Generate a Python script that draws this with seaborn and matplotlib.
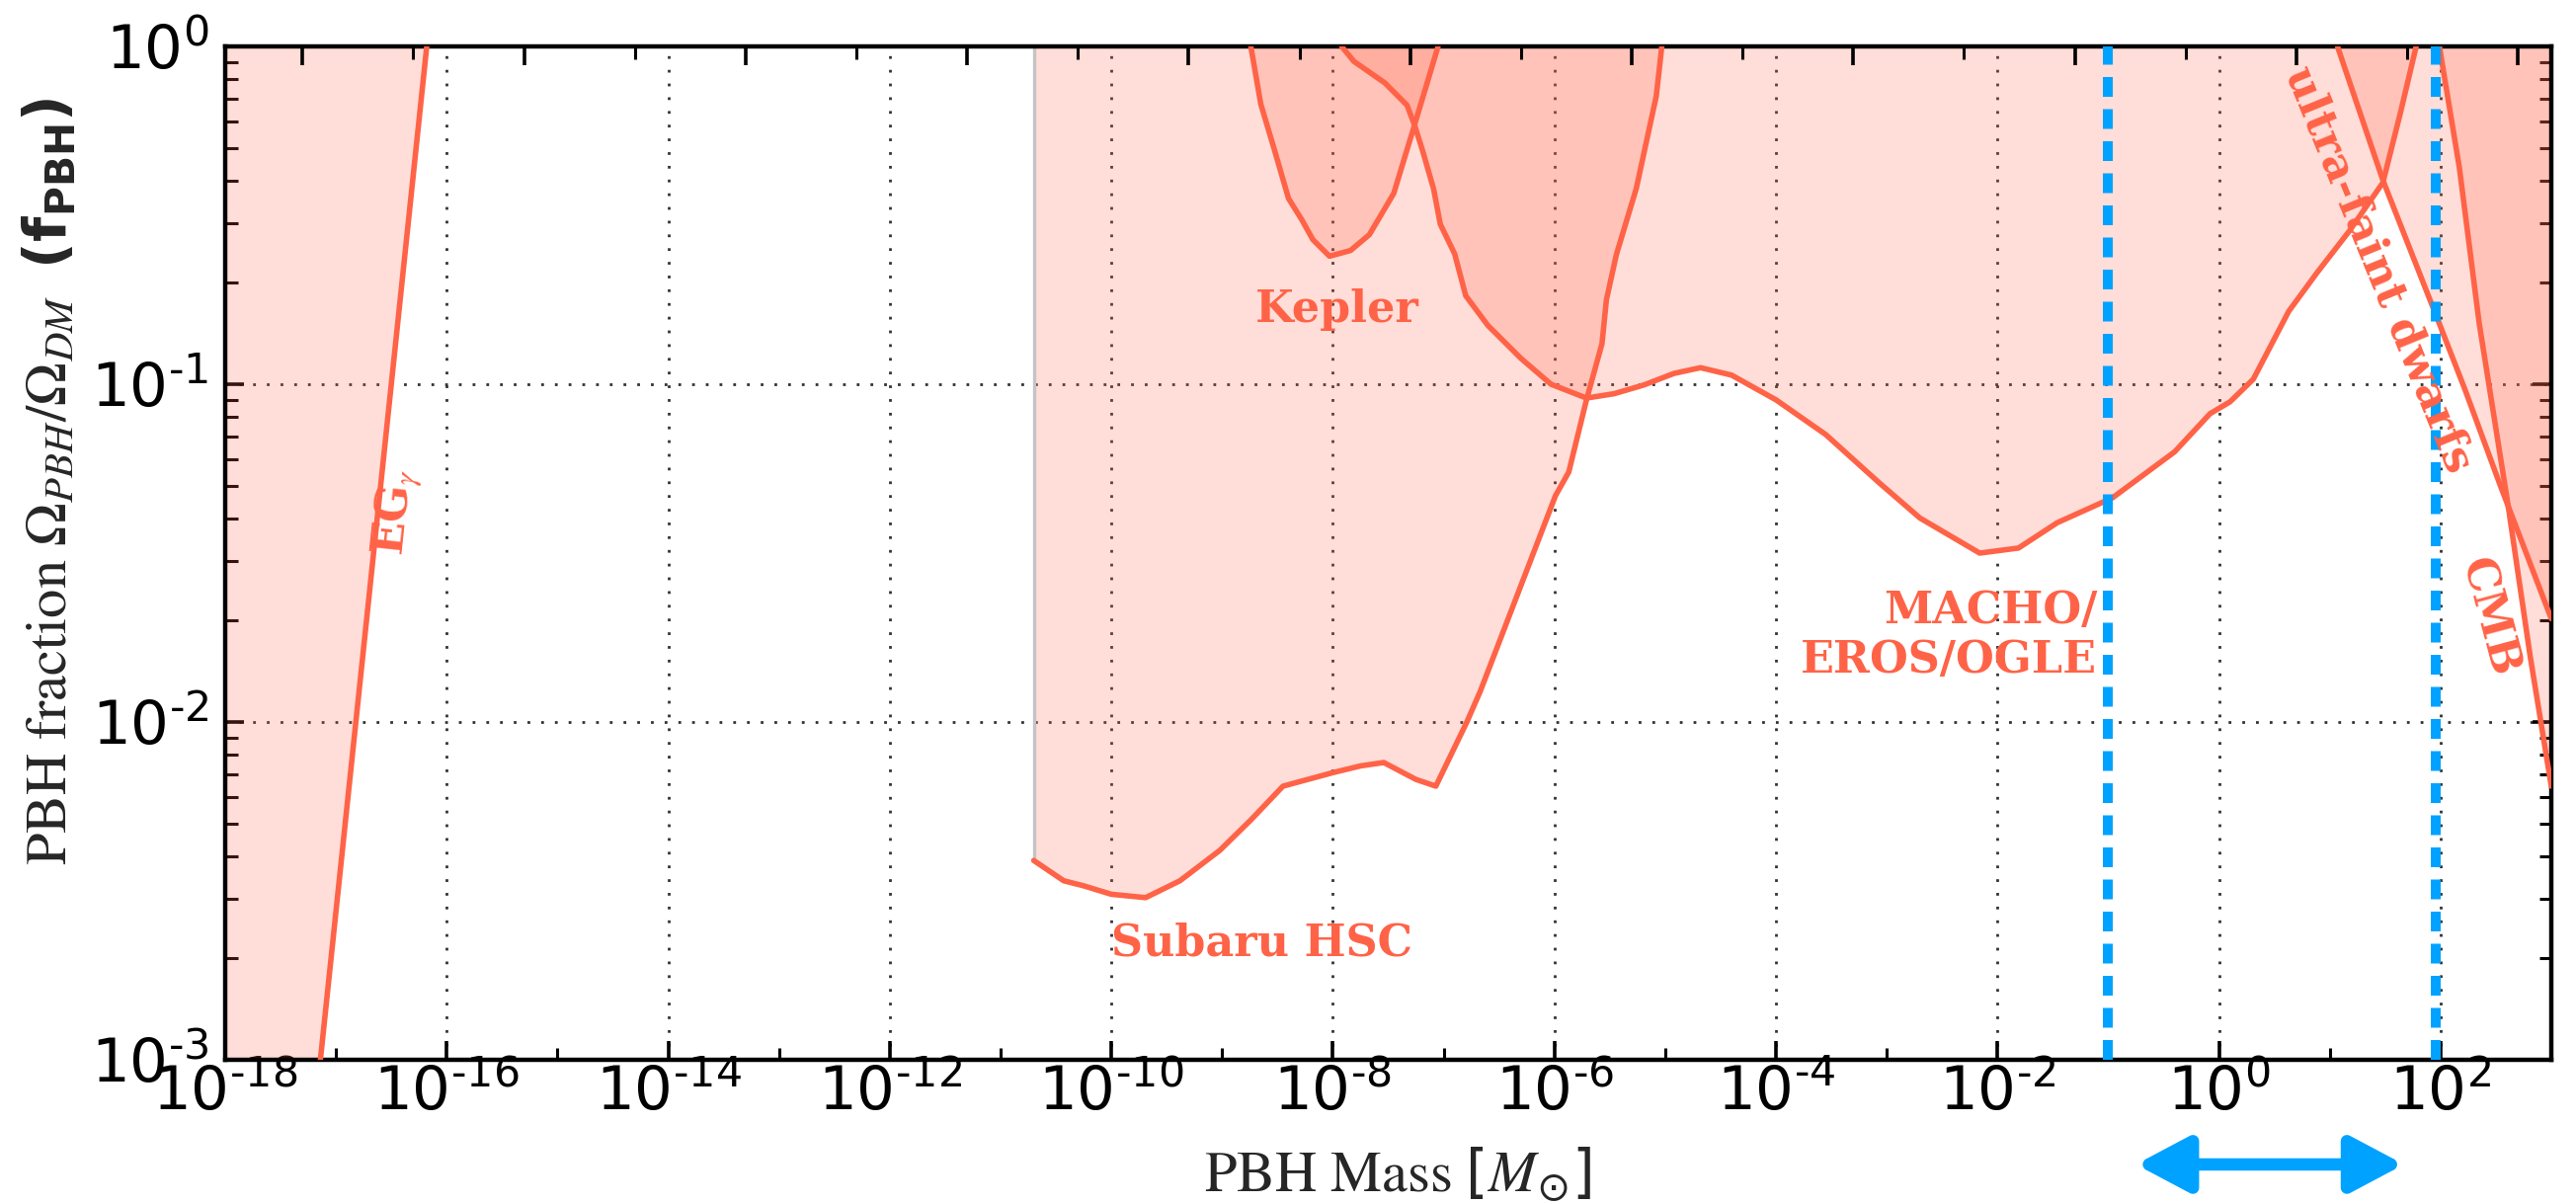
import numpy as np
import pandas as pd
import matplotlib
matplotlib.use("Agg")
import matplotlib.pyplot as plt
import seaborn as sns
from matplotlib.ticker import FixedLocator, FuncFormatter, LogLocator, NullFormatter

# ---------------- data (log10 of mass [Msun] and of f_PBH) ----------------
xlim_log = [-18, 3]
ylim_log = [-3, 0]

eg_logm = [-17.14, -16.18]
eg_logf = [-3.0, 0.0]

kepler_logm = [-8.74, -8.65, -8.53, -8.40, -8.28, -8.18, -8.03, -7.84, -7.67, -7.45, -7.26, -7.05]
kepler_logf = [0.0, -0.171, -0.303, -0.45, -0.513, -0.572, -0.621, -0.604, -0.557, -0.435, -0.23, 0.0]

subaru_logm = [-10.70, -10.43, -10.25, -10.0, -9.69, -9.38, -9.02, -8.74, -8.45, -8.0, -7.75,
               -7.54, -7.25, -7.07, -6.79, -6.67, -5.99, -5.87, -5.71, -5.57, -5.53, -5.44,
               -5.26, -5.08, -5.03]
subaru_logf = [-2.41, -2.47, -2.485, -2.51, -2.52, -2.47, -2.38, -2.29, -2.19, -2.15, -2.13,
               -2.12, -2.17, -2.19, -2.0, -1.91, -1.33, -1.26, -1.046, -0.88, -0.75, -0.616,
               -0.42, -0.147, 0.0]

macho_logm = [-7.92, -7.81, -7.53, -7.33, -7.26, -7.19, -7.09, -7.03, -6.90, -6.80, -6.60,
              -6.30, -6.03, -5.71, -5.46, -5.19, -4.92, -4.68, -4.40, -4.0, -3.55, -3.07,
              -2.70, -2.16, -1.81, -1.46, -0.96, -0.40, -0.08, 0.10, 0.31, 0.63, 0.88,
              1.18, 1.48, 1.64, 1.78]
macho_logf = [0.0, -0.044, -0.108, -0.174, -0.235, -0.308, -0.422, -0.526, -0.614, -0.738,
              -0.826, -0.924, -1.0, -1.041, -1.028, -1.002, -0.968, -0.951, -0.973, -1.046,
              -1.149, -1.291, -1.396, -1.5, -1.485, -1.41, -1.336, -1.20, -1.087, -1.052,
              -0.985, -0.784, -0.672, -0.545, -0.403, -0.194, 0.0]

ufd_logm = [1.07, 1.48, 1.99, 2.22, 2.54, 3.0]
ufd_logf = [0.0, -0.396, -0.821, -1.015, -1.30, -1.694]

cmb_logm = [1.99, 2.17, 2.35, 2.61, 2.81, 3.0]
cmb_logf = [0.0, -0.358, -0.821, -1.358, -1.806, -2.19]

window_masses = [0.1, 90.0]          # blue dashed lines
arrow_logm = [-0.75, 1.67]           # double arrow under the axis

label_texts = [r"EG$_{\mathit{\gamma}}$", "Kepler", "Subaru HSC", "MACHO/\nEROS/OGLE",
               "ultra-faint dwarfs", "CMB"]
label_logm = [-16.45, -7.96, -8.64, -1.10, 1.44, 2.43]
label_logf = [-1.38, -0.778, -2.654, -1.745, -0.66, -1.69]
label_rot = [84, 0, 0, 0, -67.8, -75]
label_ha = ["center", "center", "center", "right", "center", "center"]

x_major_log = list(range(-18, 3, 2))
x_minor_log = list(range(-17, 3, 2))
top_tick_log_g = list(range(16, 37))     # top axis ticks in grams
msun_g = 2e33

# ---------------- style ----------------
sns.set_style("ticks")
plt.rcParams.update({
    "mathtext.fontset": "custom",
    "mathtext.rm": "STIXGeneral",
    "mathtext.it": "STIXGeneral:italic",
    "mathtext.bf": "DejaVu Sans:bold",
    "mathtext.default": "regular",
    "axes.linewidth": 1.6,
})
plt.rcParams["font.family"] = ["DejaVu Sans"]

red = "#FF6347"
blue = "#00A2FF"
fill_alpha = 0.21

fig = plt.figure(figsize=(13.04, 6.095), dpi=200)
ax = fig.add_axes([0.0874, 0.1198, 0.9030, 0.8416])

def P(a):
    return 10.0 ** np.asarray(a, dtype=float)

xmin, xmax = P(xlim_log)
ymin, ymax = P(ylim_log)

# fills
ax.fill_betweenx(P(eg_logf), xmin, P(eg_logm), color=red, alpha=fill_alpha, lw=0, zorder=1)
for lm, lf in [(subaru_logm, subaru_logf), (kepler_logm, kepler_logf),
               (macho_logm, macho_logf), (ufd_logm, ufd_logf), (cmb_logm, cmb_logf)]:
    ax.fill_between(P(lm), P(lf), ymax, color=red, alpha=fill_alpha, lw=0, zorder=1)

# grey left edge of the Subaru region
ax.plot([P(subaru_logm[0])] * 2, [P(subaru_logf[0]), ymax], color="#c4c4c4", lw=1.2, zorder=1.5)

# boundary curves
for lm, lf in [(eg_logm, eg_logf), (subaru_logm, subaru_logf), (kepler_logm, kepler_logf),
               (macho_logm, macho_logf), (ufd_logm, ufd_logf), (cmb_logm, cmb_logf)]:
    df = pd.DataFrame({"m": P(lm), "f": P(lf)})
    sns.lineplot(data=df, x="m", y="f", ax=ax, color=red, lw=2.0, sort=False,
                 estimator=None, zorder=3)

# blue dashed window
for wm in window_masses:
    ax.axvline(wm, color=blue, lw=3.6, ls=(0, (2.0, 1.25)), zorder=5)

ax.set_xscale("log")
ax.set_yscale("log")
ax.set_xlim(xmin, xmax)
ax.set_ylim(ymin, ymax)

# ticks
def fmt(v, pos):
    e = int(round(np.log10(v)))
    s = ("\u2010%d" % abs(e)) if e < 0 else "%d" % e
    return r"$10^{%s}$" % s

ax.xaxis.set_major_locator(FixedLocator(P(x_major_log)))
ax.xaxis.set_minor_locator(FixedLocator(P(x_minor_log)))
ax.xaxis.set_major_formatter(FuncFormatter(fmt))
ax.xaxis.set_minor_formatter(NullFormatter())
ax.yaxis.set_major_locator(LogLocator(base=10))
ax.yaxis.set_minor_locator(LogLocator(base=10, subs=np.arange(2, 10)))
ax.yaxis.set_major_formatter(FuncFormatter(fmt))
ax.yaxis.set_minor_formatter(NullFormatter())

ax.tick_params(axis="both", which="both", direction="in", colors="black")
ax.tick_params(axis="x", which="both", top=False, bottom=True)
ax.tick_params(axis="y", which="both", left=True, right=True)
ax.tick_params(axis="both", which="major", length=7, width=1.3, labelsize=22)
ax.tick_params(axis="both", which="minor", length=4.5, width=1.1)
ax.tick_params(axis="x", which="major", pad=1.5)
ax.tick_params(axis="y", which="major", pad=6)

ax.grid(True, which="major", color="#333333", lw=1.0, ls=(0, (1, 4)))
ax.set_axisbelow(True)
for s in ax.spines.values():
    s.set_visible(True)
    s.set_color("black")
    s.set_linewidth(1.6)

# top axis (grams) ticks only
ax2 = ax.twiny()
ax2.set_xscale("log")
ax2.set_xlim(xmin * msun_g, xmax * msun_g)
ax2.xaxis.set_major_locator(FixedLocator(P([k for k in top_tick_log_g if k % 2 == 0])))
ax2.xaxis.set_minor_locator(FixedLocator(P([k for k in top_tick_log_g if k % 2 == 1])))
ax2.xaxis.set_major_formatter(NullFormatter())
ax2.xaxis.set_minor_formatter(NullFormatter())
ax2.tick_params(axis="x", which="both", direction="in", top=True, labeltop=False, colors="black")
ax2.tick_params(axis="x", which="major", length=7, width=1.3)
ax2.tick_params(axis="x", which="minor", length=4.5, width=1.1)
ax2.grid(False)
for s in ax2.spines.values():
    s.set_visible(False)

# labels
ax.set_xlabel(r"$\mathrm{PBH\ Mass}\ [\mathit{M}_{\odot}]$", fontsize=21)
ax.xaxis.set_label_coords(0.504, -0.113)
ax.xaxis.label.set_va("center")
ax.set_ylabel(r"$\mathrm{PBH\ fraction}\ \mathit{\Omega_{PBH}/\Omega_{DM}}\ \ \mathbf{(f_{PBH})}$",
              fontsize=21)
ax.yaxis.set_label_coords(-0.063, 0.571)

for t, lm, lf, r, ha in zip(label_texts, label_logm, label_logf, label_rot, label_ha):
    ax.text(P(lm), P(lf), t, color=red, fontsize=16, fontweight="bold",
            family="DejaVu Serif", rotation=r, rotation_mode="anchor",
            ha=ha, va="center", multialignment=ha, zorder=6)

# double arrow below the axis
ax.annotate("", xy=(P(arrow_logm[1]), -0.1033), xytext=(P(arrow_logm[0]), -0.1033),
            xycoords=ax.get_xaxis_transform(), textcoords=ax.get_xaxis_transform(),
            annotation_clip=False,
            arrowprops=dict(arrowstyle="<|-|>,head_length=1.6,head_width=0.85",
                            mutation_scale=10, lw=4.5, color=blue, shrinkA=0, shrinkB=0))

fig.savefig("out.png", dpi=200)
